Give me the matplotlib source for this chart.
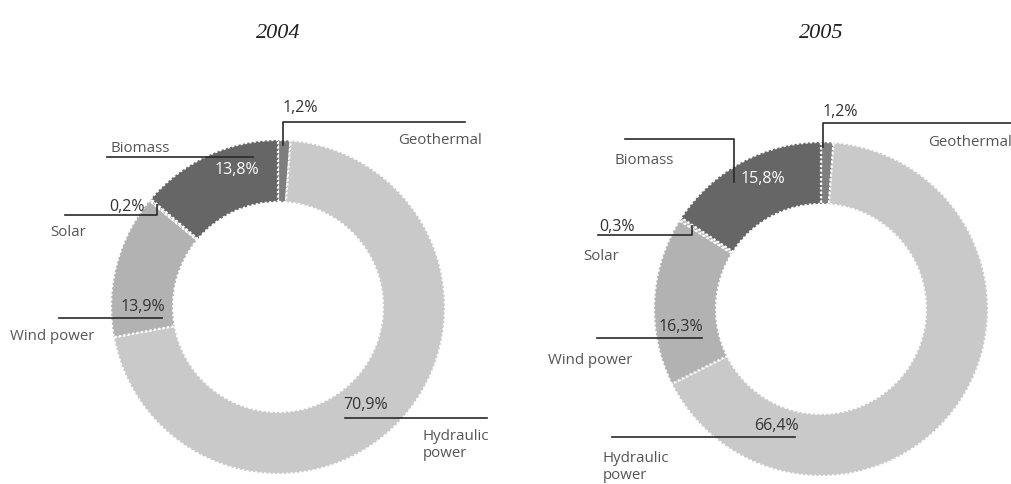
import matplotlib.pyplot as plt

# data
years = ['2004', '2005']
sources = ['Geothermal', 'Hydraulic\npower', 'Wind power', 'Solar', 'Biomass']
share_2004 = [1.2, 70.9, 13.9, 0.2, 13.8]
share_2005 = [1.2, 66.4, 16.3, 0.3, 15.8]
colors = ['#7e7e7e', '#c9c9c9', '#b2b2b2', '#b2b2b2', '#666666']

W, H = 1011, 484

# layout in pixel coords (y down): centre, and per source
# (pct text pos, leader line points, name pos)
layout = {
    '2004': dict(
        center=(278, 307),
        items=[
            ((300, 108), [(283, 145), (283, 122), (465, 122)], (398, 140)),
            ((366, 405), [(345, 418), (487, 418)], (423, 445)),
            ((143, 307), [(59, 318), (162, 318)], (10, 336)),
            ((127, 207), [(65, 215), (157, 215), (157, 205)], (50, 233)),
            ((237, 170), [(107, 157), (253, 157)], (110, 149)),
        ]),
    '2005': dict(
        center=(821, 309),
        items=[
            ((840, 112), [(823, 147), (823, 123), (1011, 123)], (928, 143)),
            ((776, 426), [(612, 437), (795, 437)], (603, 467)),
            ((681, 327), [(597, 338), (702, 338)], (548, 360)),
            ((617, 227), [(598, 235), (692, 235), (692, 226)], (583, 257)),
            ((763, 179), [(625, 139), (734, 139), (734, 182)], (615, 161)),
        ]),
}

R_OUT, RING = 167, 62
sans = ['Open Sans', 'DejaVu Sans']

fig = plt.figure(figsize=(W / 100, H / 100), dpi=100)
ax = fig.add_axes([0, 0, 1, 1])

def fy(y):
    return H - y

for year, shares in zip(years, [share_2004, share_2005]):
    lay = layout[year]
    cx, cy = lay['center']
    ax.pie(shares, colors=colors, startangle=90, counterclock=False,
           center=(cx, fy(cy)), radius=R_OUT,
           wedgeprops=dict(width=RING, edgecolor='white', linewidth=1.6,
                           linestyle=(0, (1, 1))))
    ax.text(cx, fy(33), year, ha='center', va='center', fontsize=16,
            family='Liberation Serif', style='italic', color='#222222')
    for i, (name, val) in enumerate(zip(sources, shares)):
        ptxt, line, ntxt = lay['items'][i]
        xs = [p[0] for p in line]
        ys = [fy(p[1]) for p in line]
        ax.plot(xs, ys, color='#2a2a2a', lw=1.2, zorder=5)
        pcol = 'white' if name == 'Biomass' else '#333333'
        ax.text(ptxt[0], fy(ptxt[1]), f'{val:.1f}%'.replace('.', ','),
                ha='center', va='center', fontsize=11.5, family=sans,
                color=pcol, zorder=6)
        ax.text(ntxt[0], fy(ntxt[1]), name, ha='left', va='center',
                fontsize=10.8, family=sans, color='#555555',
                linespacing=1.2, zorder=6)

ax.set_xlim(0, W)
ax.set_ylim(0, H)
ax.axis('off')
fig.savefig('out.png', dpi=100)
